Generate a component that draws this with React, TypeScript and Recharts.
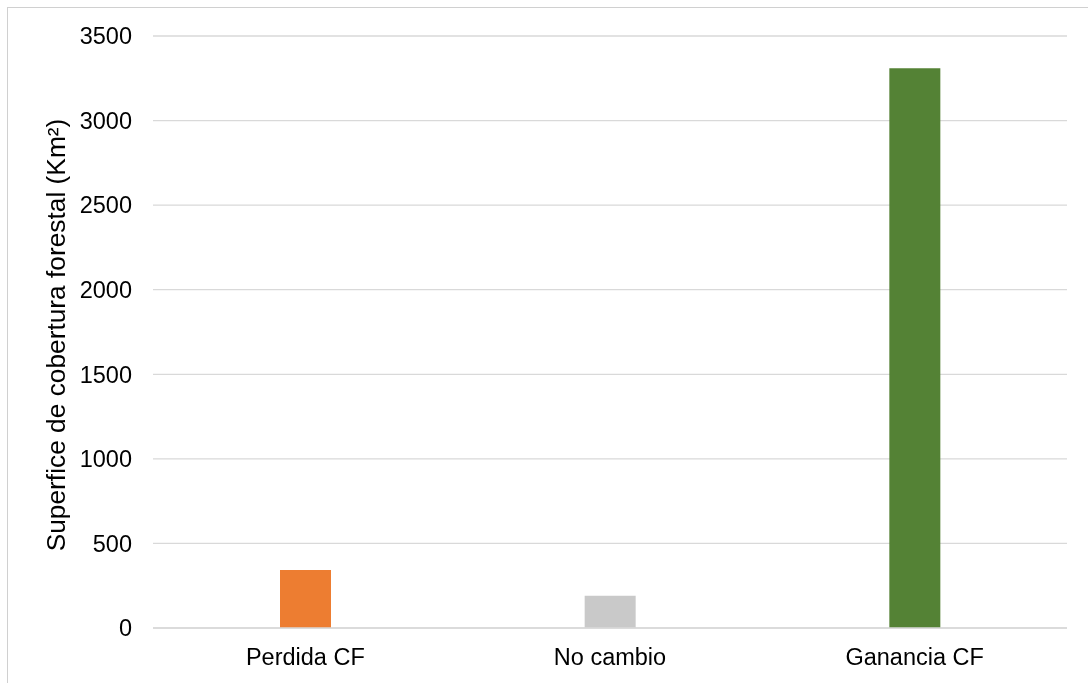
import React from "react";
import { BarChart, Bar, XAxis, YAxis, CartesianGrid, Cell } from "recharts";

// Forest cover change by class (km²)
const categories = ["Perdida CF", "No cambio", "Ganancia CF"];
const values = [343, 190, 3310];
const barColors = ["#ED7D31", "#C9C9C9", "#548235"];
const yTicks = [0, 500, 1000, 1500, 2000, 2500, 3000, 3500];
const yTitle = "Superfice de cobertura forestal (Km²)";

const data = categories.map((name, i) => ({ name, value: values[i] }));

const FONT = "'Liberation Sans', Arial, sans-serif";

const YTitle = () => {
  const cx = 57;
  const cy = 327;
  return (
    <text
      x={cx}
      y={cy}
      transform={`rotate(-90, ${cx}, ${cy})`}
      textAnchor="middle"
      fontFamily={FONT}
      fontSize={26.3}
      fill="#000"
    >
      {yTitle}
    </text>
  );
};

export default function App() {
  return (
    <div style={{ width: 1078, height: 675, background: "#fff" }}>
      {/* chart frame: left and top edges */}
      <div
        style={{
          position: "fixed",
          left: 7,
          top: 7,
          width: 1081,
          height: 676,
          borderLeft: "1px solid #d0d0d0",
          borderTop: "1px solid #d0d0d0",
          boxSizing: "border-box",
          pointerEvents: "none",
        }}
      />
      <BarChart
        width={1078}
        height={675}
        data={data}
        margin={{ top: 28, right: 19, bottom: 15, left: 0 }}
        barCategoryGap="0%"
      >
        <CartesianGrid vertical={false} stroke="#d9d9d9" strokeWidth={1.3} />
        <XAxis
          dataKey="name"
          height={40}
          tickLine={false}
          axisLine={{ stroke: "#d9d9d9", strokeWidth: 1.3 }}
          tickMargin={14}
          tick={{ fontFamily: FONT, fontSize: 23.5, fill: "#000" }}
          interval={0}
        />
        <YAxis
          width={145}
          domain={[0, 3500]}
          ticks={yTicks}
          tickLine={false}
          axisLine={false}
          tickMargin={15}
          tick={{ fontFamily: FONT, fontSize: 23.5, fill: "#000" }}
          label={<YTitle />}
        />
        <Bar dataKey="value" barSize={51} isAnimationActive={false}>
          {data.map((d, i) => (
            <Cell key={d.name} fill={barColors[i]} />
          ))}
        </Bar>
      </BarChart>
    </div>
  );
}
